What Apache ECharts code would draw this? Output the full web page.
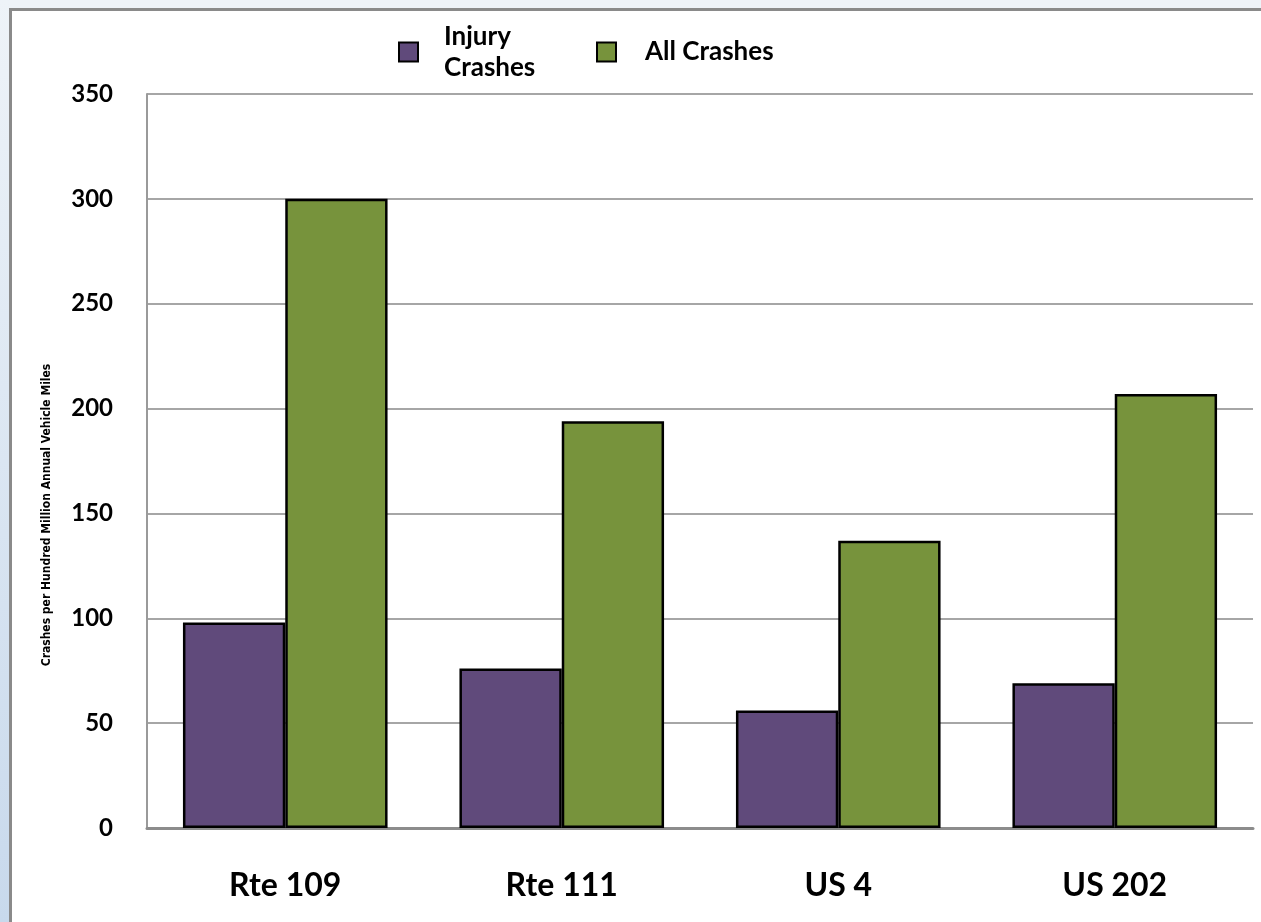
<!DOCTYPE html>
<html><head><meta charset="utf-8">
<script src="https://cdn.jsdelivr.net/npm/echarts@6/dist/echarts.min.js"></script>
<style>
html,body{margin:0;padding:0;width:1261px;height:922px;overflow:hidden;background:#eef3f8;}
#strip{position:absolute;left:0;top:0;width:10px;height:922px;background:linear-gradient(#eef3f8,#c8d9ec);}
#frame{position:absolute;left:9px;top:8px;width:1252px;height:914px;background:#fff;border-top:3px solid #8a8a8a;border-left:3px solid #8a8a8a;box-sizing:border-box;}
#chart{position:absolute;left:0;top:0;width:1261px;height:922px;}
</style></head>
<body>
<div id="strip"></div><div id="frame"></div>
<div id="chart"></div>
<script>
const categories = ['Rte 109', 'Rte 111', 'US 4', 'US 202'];
const seriesNames = ['Injury\nCrashes', 'All Crashes'];
const injuryCrashes = [98, 76, 56, 69];
const allCrashes = [300, 194, 137, 207];
const yTicks = [0, 50, 100, 150, 200, 250, 300, 350];
const yAxisTitle = 'Crashes per Hundred Million Annual Vehicle Miles';

const font = 'Lato, "Open Sans", sans-serif';
const legendText = {fontSize: 26, fontWeight: 'bold', color: '#000', fontFamily: font, lineHeight: 31};
const chart = echarts.init(document.getElementById('chart'));
chart.setOption({
  animation: false,
  textStyle: {fontFamily: font},
  legend: [
    {left: 398, top: 12, padding: 0, itemWidth: 19, itemHeight: 19, icon: 'rect',
     textStyle: Object.assign({}, legendText, {padding: [18, 0, 0, 21]}),
     itemStyle: {borderColor: '#000', borderWidth: 2},
     data: [seriesNames[0]]},
    {left: 596, top: 34, padding: 0, itemWidth: 19, itemHeight: 19, icon: 'rect',
     textStyle: Object.assign({}, legendText, {padding: [5, 0, 0, 24]}),
     itemStyle: {borderColor: '#000', borderWidth: 2},
     data: [seriesNames[1]]}
  ],
  grid: {left: 147, right: 8, top: 94, bottom: 94},
  xAxis: {
    type: 'category', data: categories,
    axisLine: {lineStyle: {color: '#8c8c8c', width: 3}},
    axisTick: {show: false},
    axisLabel: {fontSize: 32, fontWeight: 'bold', color: '#000', margin: 42, fontFamily: font}
  },
  yAxis: {
    type: 'value', min: yTicks[0], max: yTicks[yTicks.length-1], interval: 50,
    name: yAxisTitle, nameLocation: 'middle', nameGap: 94, nameRotate: 90,
    nameTextStyle: {fontSize: 12, fontWeight: 'bold', color: '#000', fontFamily: '"DejaVu Sans Condensed", sans-serif', padding: [0, 108, 0, 0]},
    axisLine: {show: true, lineStyle: {color: '#9a9a9a', width: 2}},
    axisTick: {show: false},
    axisLabel: {fontSize: 24, fontWeight: 'bold', color: '#000', margin: 34, fontFamily: font},
    splitLine: {lineStyle: {color: '#a6a6a6', width: 2}}
  },
  series: [
    {name: seriesNames[0], type: 'bar', data: injuryCrashes, barGap: '0%', barCategoryGap: '26%',
     itemStyle: {color: '#604a7b', borderColor: '#000', borderWidth: 2.5}},
    {name: seriesNames[1], type: 'bar', data: allCrashes,
     itemStyle: {color: '#77933c', borderColor: '#000', borderWidth: 2.5}}
  ]
});
</script>
</body></html>
